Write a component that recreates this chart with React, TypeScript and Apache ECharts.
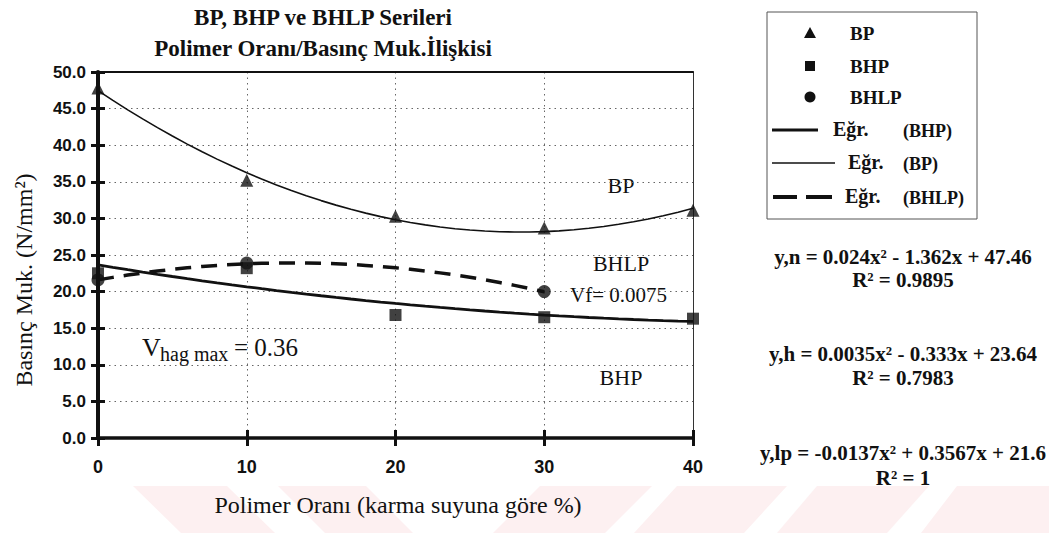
import { useEffect, useRef } from "react";
import * as echarts from "echarts";

// Polymer ratio (% of mixing water) and measured compressive strengths (N/mm²)
const ratios = [0, 10, 20, 30, 40];
const bpValues = [47.8, 35.2, 30.3, 28.7, 31.1];
const bhpValues = [22.5, 23.2, 16.8, 16.5, 16.3];
const bhlpRatios = [0, 10, 30];
const bhlpValues = [21.6, 23.9, 20.0];

// Quadratic trend coefficients [a, b, c] for a·x² + b·x + c
const bpFit = [0.024, -1.362, 47.46];
const bhpFit = [0.0035, -0.333, 23.64];
const bhlpFit = [-0.0137, 0.3567, 21.6];

const fitEquations = [
  "y,n = 0.024x² - 1.362x + 47.46",
  "y,h = 0.0035x² - 0.333x + 23.64",
  "y,lp = -0.0137x² + 0.3567x + 21.6",
];
const fitR2 = ["R² = 0.9895", "R² = 0.7983", "R² = 1"];

const titleLines = ["BP, BHP ve BHLP Serileri", "Polimer Oranı/Basınç Muk.İlişkisi"];
const xTitle = "Polimer Oranı (karma suyuna göre %)";
const yTitle = "Basınç Muk. (N/mm²)";

const SERIF = "'Liberation Serif', 'Times New Roman', serif";

function trend(coef: number[], maxX: number): number[][] {
  const pts: number[][] = [];
  for (let x = 0; x <= maxX; x += 1) {
    pts.push([x, coef[0] * x * x + coef[1] * x + coef[2]]);
  }
  return pts;
}

const pairs = (xs: number[], ys: number[]) => xs.map((x, i) => [x, ys[i]]);

export default function App() {
  const ref = useRef<HTMLDivElement>(null);

  useEffect(() => {
    if (!ref.current) return;
    const chart = echarts.init(ref.current, undefined, { renderer: "svg" });

    const black = "#111";
    const baseX = { type: "value" as const, min: 0, max: 40, interval: 10 };
    const baseY = { type: "value" as const, min: 0, max: 50, interval: 5 };

    // faint striped band along the bottom edge
    const pink = "#fdf0f1";
    const watermark = [
      [[133, 486], [227, 486], [275, 533], [181, 533]],
      [[278, 486], [366, 486], [413, 533], [325, 533]],
      [[540, 486], [652, 486], [605, 533], [493, 533]],
      [[677, 486], [787, 486], [744, 533], [634, 533]],
      [[817, 486], [929, 486], [887, 533], [777, 533]],
      [[957, 486], [1049, 486], [1049, 533], [921, 533]],
    ].map((pts) => ({
      type: "polygon",
      z: -1,
      silent: true,
      shape: { points: pts },
      style: { fill: pink },
    }));

    const text = (t: string, x: number, y: number, size: number, opts: any = {}) => ({
      type: "text",
      x,
      y,
      rotation: opts.rotation || 0,
      style: {
        text: t,
        fill: black,
        font: `${opts.weight || "normal"} ${size}px ${opts.family || SERIF}`,
        align: opts.align || "left",
        verticalAlign: "middle",
      },
    });

    const legendX = 810;
    const legend = [
      {
        type: "rect",
        shape: { x: 767, y: 12, width: 210, height: 207 },
        style: { fill: "#fff", stroke: "#555", lineWidth: 1 },
      },
      {
        type: "polygon",
        shape: { points: [[legendX, 27], [legendX + 6, 38], [legendX - 6, 38]] },
        style: { fill: black },
      },
      {
        type: "rect",
        shape: { x: legendX - 5, y: 61, width: 10, height: 10 },
        style: { fill: black },
      },
      { type: "circle", shape: { cx: legendX, cy: 97, r: 5.5 }, style: { fill: black } },
      text("BP", 850, 33, 19, { weight: "bold" }),
      text("BHP", 850, 66, 19, { weight: "bold" }),
      text("BHLP", 850, 97, 19, { weight: "bold" }),
      {
        type: "line",
        shape: { x1: 772, y1: 130, x2: 818, y2: 130 },
        style: { stroke: black, lineWidth: 3 },
      },
      text("Eğr.", 833, 129, 20, { weight: "bold" }),
      text("(BHP)", 903, 131, 18, { weight: "bold" }),
      {
        type: "line",
        shape: { x1: 772, y1: 163, x2: 835, y2: 163 },
        style: { stroke: black, lineWidth: 1.5 },
      },
      text("Eğr.", 848, 162, 20, { weight: "bold" }),
      text("(BP)", 903, 164, 18, { weight: "bold" }),
      {
        type: "line",
        shape: { x1: 773, y1: 197, x2: 797, y2: 197 },
        style: { stroke: black, lineWidth: 4 },
      },
      {
        type: "line",
        shape: { x1: 806, y1: 197, x2: 832, y2: 197 },
        style: { stroke: black, lineWidth: 4 },
      },
      text("Eğr.", 845, 196, 20, { weight: "bold" }),
      text("(BHLP)", 903, 198, 18, { weight: "bold" }),
    ];

    const eqY = [257, 354, 453];
    const r2Y = [280, 378, 478];
    const equations = fitEquations.flatMap((eq, i) => [
      text(eq, 903, eqY[i], 21, { weight: "bold", align: "center" }),
      text(fitR2[i], 903, r2Y[i], 21, { weight: "bold", align: "center" }),
    ]);

    const annotations = [
      text("BP", 621, 185, 22, { align: "center" }),
      text("BHLP", 621, 263, 22, { align: "center" }),
      text("Vf= 0.0075", 570, 295, 21),
      text("BHP", 621, 377, 22, { align: "center" }),
      text("V", 142, 347, 26),
      text("hag max", 160, 354, 20),
      text("= 0.36", 234, 347, 25),
    ];

    const titles = [
      text(titleLines[0], 323, 17, 23, { weight: "bold", align: "center" }),
      text(titleLines[1], 323, 48, 23, { weight: "bold", align: "center" }),
      text(xTitle, 398, 505, 24, { align: "center" }),
      text(yTitle, 24, 280, 24, { align: "center", rotation: Math.PI / 2 }),
    ];

    const dotted = { color: "#666", type: [1.5, 4], width: 1 };

    chart.setOption({
      animation: false,
      backgroundColor: "#fff",
      grid: { left: 98, right: 356, top: 72, bottom: 95 },
      xAxis: [
        {
          ...baseX,
          position: "bottom",
          axisLine: { show: true, onZero: false, lineStyle: { color: black, width: 3.5 } },
          axisTick: { show: true, length: 8, lineStyle: { color: black, width: 3 } },
          axisLabel: {
            color: black,
            fontFamily: "'Liberation Sans Narrow', 'Liberation Sans', sans-serif",
            fontWeight: "bold",
            fontSize: 18,
            margin: 20,
          },
          splitLine: { show: true, lineStyle: dotted },
        },
        {
          ...baseX,
          position: "bottom",
          axisLine: { show: false },
          axisTick: { show: true, inside: true, length: 8, lineStyle: { color: black, width: 3 } },
          axisLabel: { show: false },
          splitLine: { show: false },
        },
        {
          ...baseX,
          position: "top",
          axisLine: { show: true, onZero: false, lineStyle: { color: black, width: 2 } },
          axisTick: { show: false },
          axisLabel: { show: false },
          splitLine: { show: false },
        },
      ],
      yAxis: [
        {
          ...baseY,
          position: "left",
          axisLine: { show: true, onZero: false, lineStyle: { color: black, width: 4 } },
          axisTick: { show: true, length: 7, lineStyle: { color: black, width: 3 } },
          axisLabel: {
            color: black,
            fontFamily: "'Liberation Sans', Arial, sans-serif",
            fontWeight: "bold",
            fontSize: 17,
            margin: 12,
            formatter: (v: number) => v.toFixed(1),
          },
          splitLine: { show: true, lineStyle: dotted },
        },
        {
          ...baseY,
          position: "left",
          axisLine: { show: false },
          axisTick: { show: true, inside: true, length: 7, lineStyle: { color: black, width: 3 } },
          axisLabel: { show: false },
          splitLine: { show: false },
        },
        {
          ...baseY,
          position: "right",
          axisLine: { show: true, onZero: false, lineStyle: { color: "#333", width: 1 } },
          axisTick: { show: false },
          axisLabel: { show: false },
          splitLine: { show: false },
        },
      ],
      series: [
        {
          name: "Eğr. (BP)",
          type: "line",
          data: trend(bpFit, 40),
          showSymbol: false,
          lineStyle: { color: black, width: 1.6 },
          z: 3,
        },
        {
          name: "Eğr. (BHP)",
          type: "line",
          data: trend(bhpFit, 40),
          showSymbol: false,
          lineStyle: { color: black, width: 2.8 },
          z: 3,
        },
        {
          name: "Eğr. (BHLP)",
          type: "line",
          data: trend(bhlpFit, 30),
          showSymbol: false,
          lineStyle: { color: black, width: 3.5, type: [16, 10] },
          z: 3,
        },
        {
          name: "BP",
          type: "scatter",
          data: pairs(ratios, bpValues),
          symbol: "triangle",
          symbolSize: 13,
          itemStyle: { color: black },
          z: 5,
        },
        {
          name: "BHP",
          type: "scatter",
          data: pairs(ratios, bhpValues),
          symbol: "rect",
          symbolSize: 12,
          itemStyle: { color: black },
          z: 5,
        },
        {
          name: "BHLP",
          type: "scatter",
          data: pairs(bhlpRatios, bhlpValues),
          symbol: "circle",
          symbolSize: 13,
          itemStyle: { color: black },
          z: 5,
        },
      ],
      graphic: [...watermark, ...titles, ...annotations, ...legend, ...equations],
    });

    return () => chart.dispose();
  }, []);

  return (
    <div
      ref={ref}
      style={{ position: "fixed", left: 0, top: 0, width: 1049, height: 533, background: "#fff" }}
    />
  );
}
